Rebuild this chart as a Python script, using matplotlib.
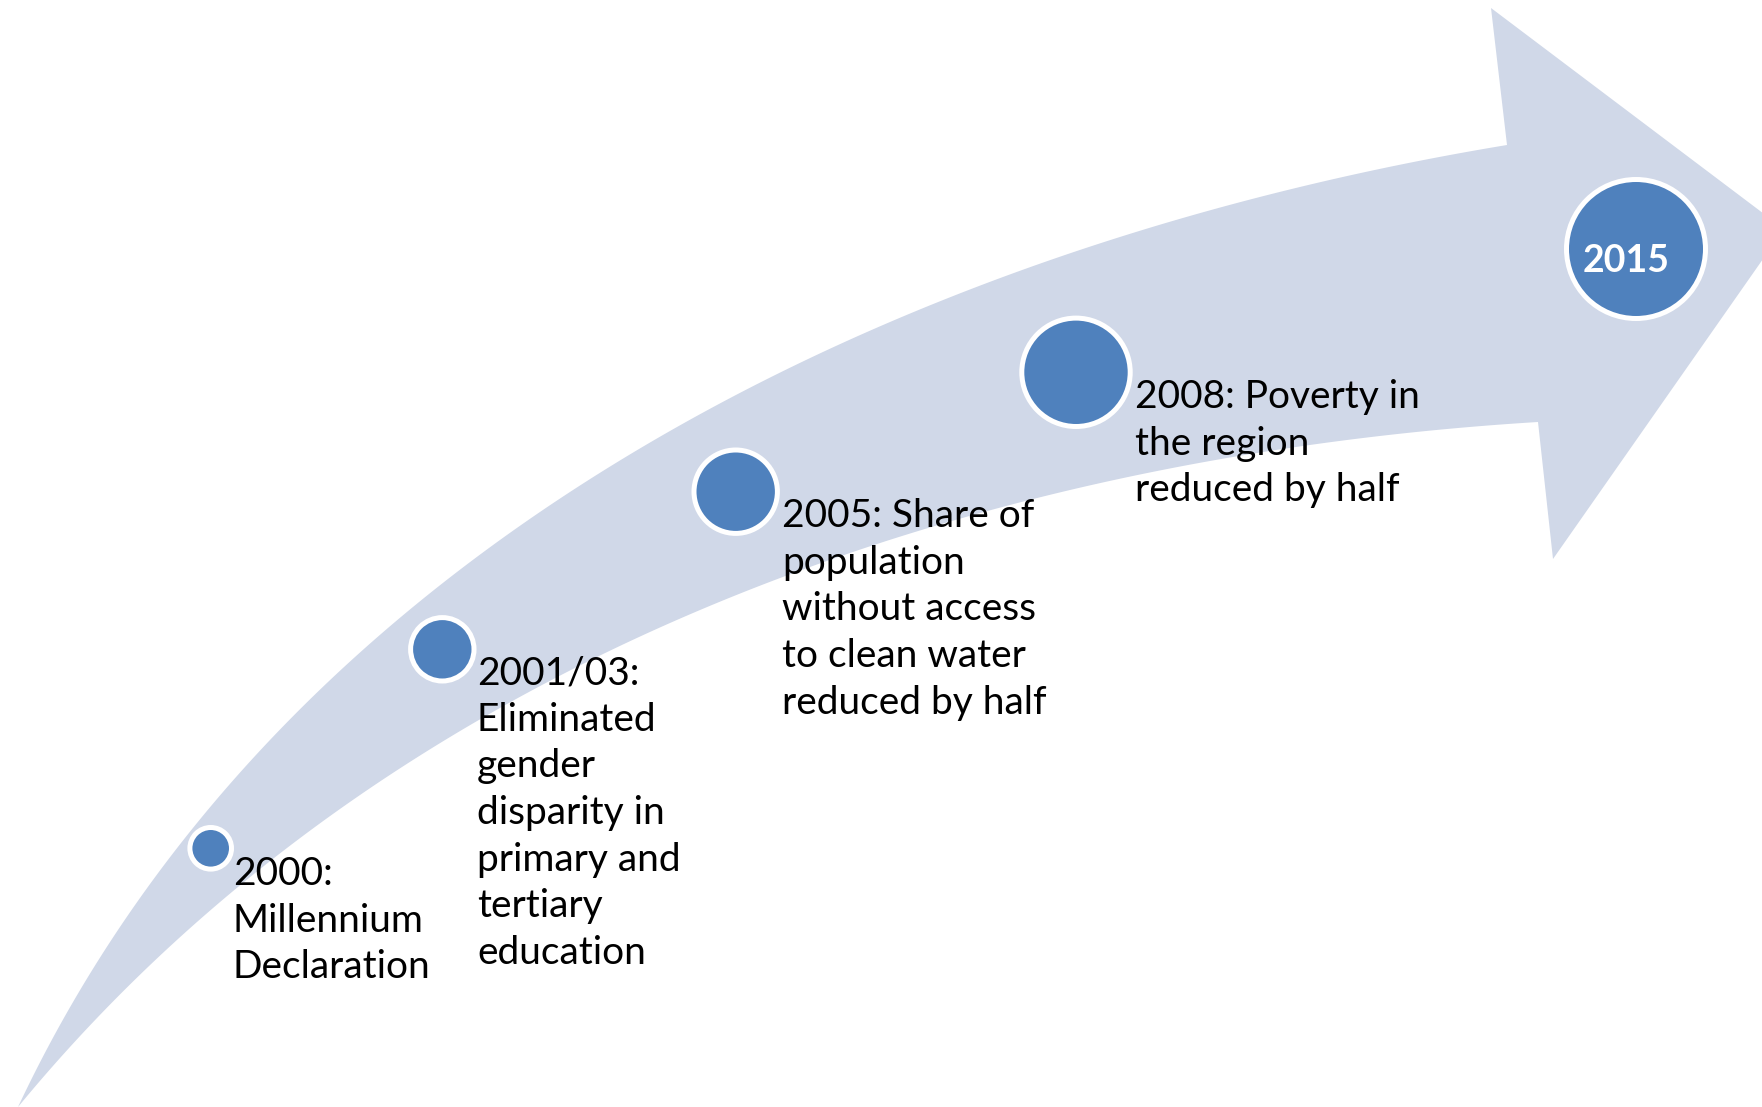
import numpy as np
import matplotlib
matplotlib.use("Agg")
import matplotlib.pyplot as plt
from matplotlib.patches import Polygon, Circle

plt.rcParams['font.family'] = ['Lato', 'DejaVu Sans']

# ---- content ----
years = ["2000", "2001/03", "2005", "2008", "2015"]
labels = [
    ["2000:", "Millennium", "Declaration"],
    ["2001/03:", "Eliminated", "gender", "disparity in", "primary and", "tertiary", "education"],
    ["2005: Share of", "population", "without access", "to clean water", "reduced by half"],
    ["2008: Poverty in", "the region", "reduced by half"],
]
final_label = "2015"

# ---- layout (pixel coordinates, y downward) ----
W, H = 1762, 1107
arrow_color = "#D0D8E8"
dot_color = "#4F81BD"

upper_edge = [(18, 1107), (50, 1033), (100, 950), (150, 887), (233, 790), (300, 720),
              (400, 607), (500, 533), (600, 477), (750, 383), (950, 297), (1150, 233),
              (1300, 190), (1507, 145)]
lower_edge = [(18, 1107), (100, 1025), (210, 915), (333, 820), (473, 717), (650, 627),
              (750, 585), (950, 523), (1150, 477), (1300, 450), (1538, 422)]
head = [(1507, 145), (1491, 8), (1784, 229), (1553, 559), (1538, 422)]

dot_centers = [(210.7, 848.3), (442.3, 649.3), (735.7, 491.7), (1076, 372.3), (1636, 249)]
dot_radii = [18.3, 29.2, 39.2, 51.7, 67]
text_pos = [(233, 885), (477, 684), (782, 527), (1135, 408)]
line_step = 46.7
ring_px = 5.0


def fit_bezier(pts, n=300):
    pts = np.asarray(pts, float)
    d = np.r_[0, np.cumsum(np.hypot(*np.diff(pts, axis=0).T))]
    t = d / d[-1]
    P0, P3 = pts[0], pts[-1]
    b0 = (1 - t) ** 3; b1 = 3 * (1 - t) ** 2 * t; b2 = 3 * (1 - t) * t ** 2; b3 = t ** 3
    A = np.c_[b1, b2]
    rhs = pts - np.outer(b0, P0) - np.outer(b3, P3)
    sol, *_ = np.linalg.lstsq(A, rhs, rcond=None)
    P1, P2 = sol
    s = np.linspace(0, 1, n)[:, None]
    return ((1 - s) ** 3 * P0 + 3 * (1 - s) ** 2 * s * P1 + 3 * (1 - s) * s ** 2 * P2 + s ** 3 * P3)


fig = plt.figure(figsize=(W / 100, H / 100), dpi=100)
ax = fig.add_axes([0, 0, 1, 1])
ax.set_xlim(0, W)
ax.set_ylim(H, 0)
ax.axis("off")

up = fit_bezier(upper_edge)
lo = fit_bezier(lower_edge)
poly = np.vstack([up, np.asarray(head[1:-1], float), lo[::-1]])
ax.add_patch(Polygon(poly, closed=True, facecolor=arrow_color, edgecolor="none", zorder=1))

lw_pt = ring_px * 72 / 100
for (cx, cy), r in zip(dot_centers, dot_radii):
    ax.add_patch(Circle((cx, cy), r + ring_px / 2, facecolor=dot_color, edgecolor="white",
                        linewidth=lw_pt, zorder=2))

fs = 28
for (x, y), lines in zip(text_pos, labels):
    for i, ln in enumerate(lines):
        ax.text(x, y + i * line_step, ln, ha="left", va="baseline", fontsize=fs,
                color="black", zorder=3)

ax.text(1626, 272, final_label, ha="center", va="baseline", fontsize=27,
        fontweight="bold", color="white", zorder=3)

fig.savefig("out.png", dpi=100, facecolor="white")
